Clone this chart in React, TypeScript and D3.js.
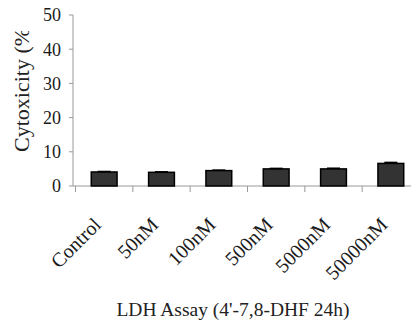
import React from 'react';
import * as d3 from 'd3';

const categories = ['Control', '50nM', '100nM', '500nM', '5000nM', '50000nM'];
const values = [4.1, 4.0, 4.5, 5.0, 5.0, 6.6];
const errors = [0.15, 0.15, 0.15, 0.15, 0.2, 0.3];
const yTicks = [0, 10, 20, 30, 40, 50];

const W = 411;
const H = 320;
const font = '"Liberation Serif", "Times New Roman", serif';

export default function App() {
  // scales
  const x = d3.scaleBand<string>().domain(categories).range([75.5, 419.5]).padding(0);
  const y = d3.scaleLinear().domain([0, 50]).range([186, 15]);
  const barW = x.bandwidth() * 0.45;
  const axisX = 73;
  const step = x.step();

  return (
    <svg width={W} height={H} style={{ position: 'absolute', left: 0, top: 0, background: '#fff' }}>
      <defs>
        <clipPath id="ylab">
          <rect x={0} y={31} width={60} height={200} />
        </clipPath>
      </defs>

      {/* y axis */}
      <line x1={axisX} x2={axisX} y1={y(50)} y2={y(0)} stroke="#999" strokeWidth={1} />
      {yTicks.map(t => (
        <g key={t}>
          <line x1={axisX - 4} x2={axisX} y1={y(t)} y2={y(t)} stroke="#999" />
          <text x={61} y={y(t)} dy="0.35em" textAnchor="end" fontFamily={font} fontSize={18} fill="#1a1a1a">
            {t}
          </text>
        </g>
      ))}

      {/* x axis */}
      <line x1={axisX} x2={W} y1={y(0)} y2={y(0)} stroke="#999" strokeWidth={1} />
      {categories.map(c => (
        <line key={c} x1={x(c)!} x2={x(c)!} y1={y(0)} y2={y(0) + 6} stroke="#999" />
      ))}

      {/* bars */}
      {categories.map((c, i) => {
        const cx = x(c)! + step / 2;
        return (
          <g key={c}>
            <rect
              x={cx - barW / 2}
              y={y(values[i])}
              width={barW}
              height={y(0) - y(values[i])}
              fill="#333"
              stroke="#000"
              strokeWidth={1.5}
            />
            <line x1={cx} x2={cx} y1={y(values[i])} y2={y(values[i] + errors[i])} stroke="#000" strokeWidth={1.5} />
            <line x1={cx - 6.5} x2={cx + 6.5} y1={y(values[i] + errors[i])} y2={y(values[i] + errors[i])} stroke="#000" strokeWidth={1.5} />
          </g>
        );
      })}

      {/* x tick labels */}
      {categories.map(c => {
        const cx = x(c)! + step / 2;
        return (
          <text
            key={c}
            transform={`translate(${cx - 2},226) rotate(-45)`}
            textAnchor="end"
            fontFamily={font}
            fontSize={20}
            fill="#1a1a1a"
          >
            {c}
          </text>
        );
      })}

      {/* y label */}
      <g clipPath="url(#ylab)">
        <text
          transform="translate(29,152) rotate(-90)"
          textAnchor="start"
          fontFamily={font}
          fontSize={22}
          fill="#222"
        >
          Cytoxicity (%)
        </text>
      </g>

      {/* x title */}
      <text x={233} y={316} textAnchor="middle" fontFamily={font} fontSize={19.5} fill="#222">
        LDH Assay (4'-7,8-DHF 24h)
      </text>
    </svg>
  );
}
